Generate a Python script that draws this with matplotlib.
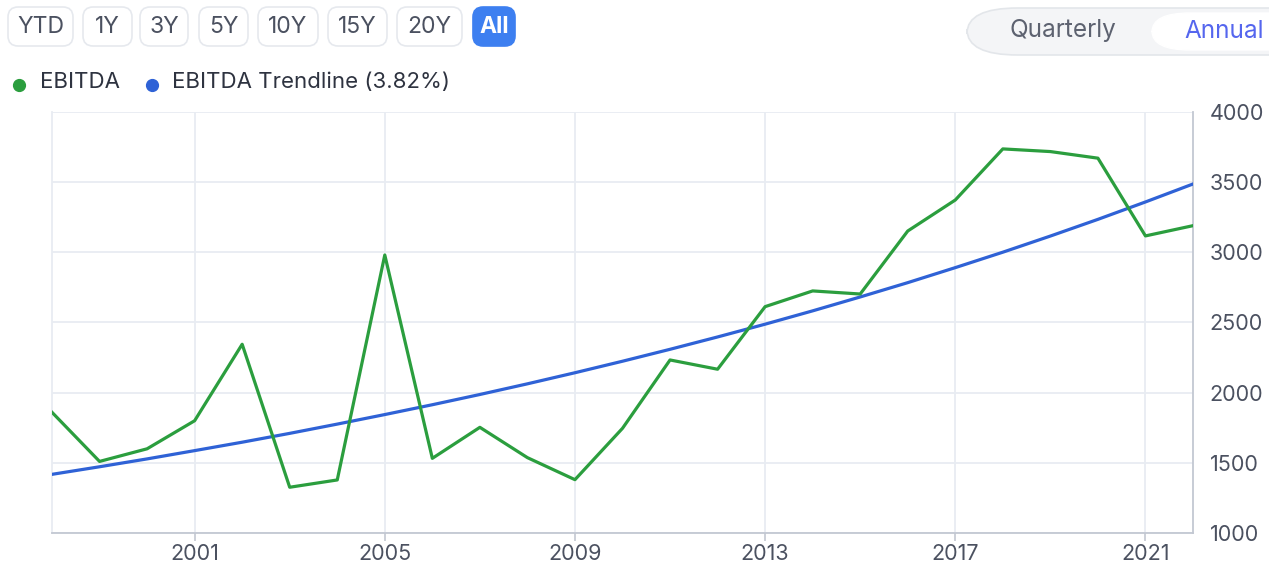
import matplotlib
matplotlib.use("Agg")
import matplotlib.pyplot as plt
from matplotlib.patches import FancyBboxPatch

# -------------------------
# Data
# -------------------------

years = list(range(1998, 2023))
ebitda = [1860, 1510, 1600, 1800, 2345, 1326, 1378, 2981, 1532, 1753,
          1537, 1380, 1746, 2233, 2167, 2613, 2725, 2703, 3152, 3373,
          3737, 3718, 3671, 3117, 3190]
trendline = [1418, 1472, 1528, 1587, 1647, 1710, 1776, 1844, 1914, 1987,
             2063, 2142, 2224, 2309, 2397, 2488, 2583, 2682, 2784, 2891,
             3001, 3116, 3235, 3359, 3487]

x_ticks = [2001, 2005, 2009, 2013, 2017, 2021]
y_ticks = [1000, 1500, 2000, 2500, 3000, 3500, 4000]

range_buttons = ["YTD", "1Y", "3Y", "5Y", "10Y", "15Y", "20Y", "All"]
legend_labels = ["EBITDA", "EBITDA Trendline (3.82%)"]

# -------------------------
# Style
# -------------------------

W, H = 1269, 567
GREEN = "#2b9e3e"
BLUE = "#2f62d6"
GRID = "#e8ecf2"
AXIS = "#c3c8d2"
TEXT = "#4b5160"
FONT = ["Inter", "DejaVu Sans"]

plt.rcParams["font.family"] = FONT


def fx(px):
    return px / W


def fy(py):
    return 1 - py / H


fig = plt.figure(figsize=(W / 100, H / 100), dpi=100)
fig.patch.set_facecolor("white")

# plot area: x 52..1193, y 112..533 in pixels
ax = fig.add_axes([fx(52), fy(533), fx(1193 - 52), (533 - 112) / H])
ax.plot(years, trendline, color=BLUE, lw=2.3, zorder=3)
ax.plot(years, ebitda, color=GREEN, lw=2.3, zorder=4)

ax.set_xlim(years[0], years[-1])
ax.set_ylim(y_ticks[0], y_ticks[-1])
ax.set_xticks(x_ticks)
ax.set_xticklabels([str(t) for t in x_ticks])
ax.set_yticks(y_ticks)
ax.set_yticklabels([str(t) for t in y_ticks])
ax.yaxis.tick_right()

ax.grid(True, color=GRID, lw=1.3, zorder=0)
ax.set_axisbelow(True)
ax.spines["top"].set_visible(False)
ax.spines["left"].set_color(GRID)
ax.spines["left"].set_linewidth(1.3)
ax.spines["right"].set_color(AXIS)
ax.spines["right"].set_linewidth(1.3)
ax.spines["bottom"].set_color(AXIS)
ax.spines["bottom"].set_linewidth(1.3)

ax.tick_params(axis="x", length=6, width=1.2, color=AXIS, labelsize=15.5,
               labelcolor=TEXT, pad=2)
ax.tick_params(axis="y", length=0, labelsize=15.5, labelcolor=TEXT, pad=12)

# -------------------------
# Range buttons
# -------------------------

btn_x = [(8, 73), (83, 132), (140, 188), (199, 248), (258, 318),
         (328, 387), (397, 462), (473, 515)]
for label, (x0, x1) in zip(range_buttons, btn_x):
    active = label == "All"
    box = FancyBboxPatch((fx(x0), fy(46)), fx(x1 - x0), (46 - 7) / H,
                         boxstyle="round,pad=0,rounding_size=0.008",
                         transform=fig.transFigure,
                         facecolor="#3d7ff0" if active else "white",
                         edgecolor="#3d7ff0" if active else "#e6e9ee",
                         lw=1.2, mutation_aspect=W / H)
    fig.patches.append(box)
    fig.text(fx((x0 + x1) / 2), fy(27), label, ha="center", va="center",
             fontsize=16.5, color="white" if active else TEXT,
             fontweight="bold" if active else "normal")

# -------------------------
# Legend
# -------------------------

legend_x = [(19, 40), (152, 172)]
for label, color, (dot_x, text_x) in zip(legend_labels, [GREEN, BLUE], legend_x):
    fig.add_artist(plt.Line2D([fx(dot_x)], [fy(85)], marker="o", ms=8.5,
                              color=color, transform=fig.transFigure))
    fig.text(fx(text_x), fy(82), label, ha="left", va="center",
             fontsize=16, color="#2e3340")

# -------------------------
# Quarterly / Annual toggle
# -------------------------

pill = FancyBboxPatch((fx(967), fy(55)), fx(360), (55 - 8) / H,
                      boxstyle="round,pad=0,rounding_size=0.04",
                      transform=fig.transFigure, facecolor="#f4f5f7",
                      edgecolor="#e3e6ea", lw=1.2, mutation_aspect=W / H * 0.5)
fig.patches.append(pill)
inner = FancyBboxPatch((fx(1152), fy(50)), fx(200), (50 - 13) / H,
                       boxstyle="round,pad=0,rounding_size=0.03",
                       transform=fig.transFigure, facecolor="white",
                       edgecolor="white", lw=1, mutation_aspect=W / H * 0.5)
fig.patches.append(inner)
fig.text(fx(1063), fy(31), "Quarterly", ha="center", va="center",
         fontsize=17.5, color="#5d6270")
fig.text(fx(1184), fy(31), "Annual", ha="left", va="center",
         fontsize=17.5, color="#5566ee")

fig.savefig("out.png", dpi=100, facecolor="white")
